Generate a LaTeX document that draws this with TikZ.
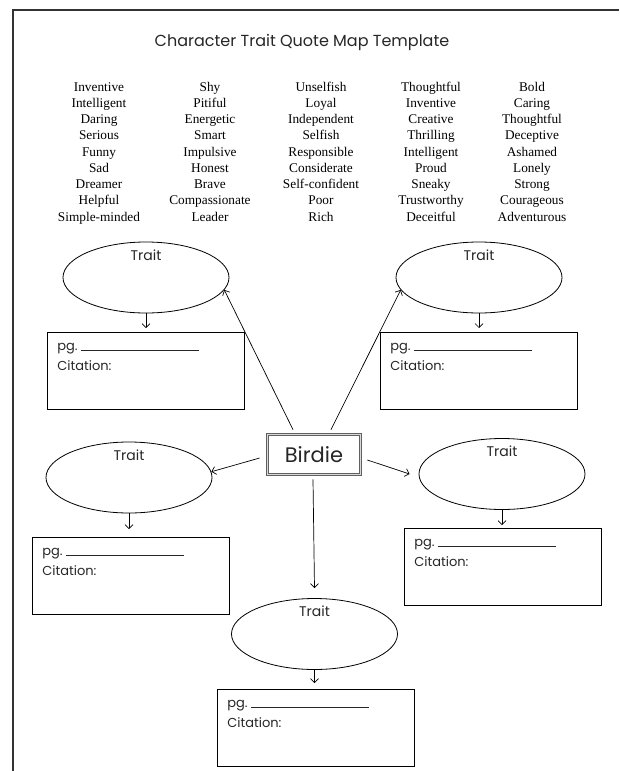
\documentclass[tikz,border=0pt]{standalone}
\usepackage{fontspec}
\setmainfont{Liberation Serif}
\newfontfamily\mapfont{Poppins}
\usetikzlibrary{arrows.meta,positioning,shapes.geometric}

\newcommand{\quotelines}{\parbox[t][69pt][t]{177pt}{\strut pg.~\rule{118pt}{0.6pt}\\Citation:}}

\begin{document}
\begin{tikzpicture}[x=1pt, y=-1pt, >={Straight Barb[length=4pt,width=8pt]},
  every node/.style={inner sep=0pt},
  word/.style={anchor=base, font=\fontsize{13.3}{16}\selectfont},
  traitoval/.style={draw, ellipse, line width=0.8pt, minimum width=166pt, minimum height=71pt,
    label={[font=\mapfont\fontsize{14}{16}\selectfont, text=black!85, anchor=north, yshift=-8pt]north:Trait}},
  quotebox/.style={draw, line width=0.8pt, anchor=north west, minimum width=197pt, minimum height=77pt,
    font=\mapfont\fontsize{13}{20}\selectfont, text=black!85},
  link/.style={->, line width=0.7pt}]
  \useasboundingbox (0,0) rectangle (619,771);
  % page frame (cut off right and bottom)
  \draw[line width=1.3pt, black!80] (619,10) -- (13,10) -- (13,771);
  \node[font=\mapfont\fontsize{16}{20}\selectfont, text=black!85, anchor=base] (title) at (302,46)
    {Character Trait Quote Map Template};
  % word bank
  \foreach \cx/\words [count=\j] in {
      99/{Inventive,Intelligent,Daring,Serious,Funny,Sad,Dreamer,Helpful,Simple-minded},
      210/{Shy,Pitiful,Energetic,Smart,Impulsive,Honest,Brave,Compassionate,Leader},
      321/{Unselfish,Loyal,Independent,Selfish,Responsible,Considerate,Self-confident,Poor,Rich},
      431/{Thoughtful,Inventive,Creative,Thrilling,Intelligent,Proud,Sneaky,Trustworthy,Deceitful},
      532/{Bold,Caring,Thoughtful,Deceptive,Ashamed,Lonely,Strong,Courageous,Adventurous}}
    \foreach \w [count=\i] in \words
      \node[word] (w\j-\i) at (\cx,{91+16.25*(\i-1)}) {\w};
  % centre
  \node[draw=gray!75!black, line width=0.7pt, double=gray!30, double distance=1.6pt,
    minimum width=93pt, minimum height=40pt, font=\mapfont\fontsize{21}{24}\selectfont,
    text=black!85] (birdie) at (314,454.5) {Birdie};
  % traits
  \node[traitoval] (elTL) at (146,277.5) {};
  \node[traitoval] (elTR) at (479,277.5) {};
  \node[traitoval] (elML) at (129,477.5) {};
  \node[traitoval] (elMR) at (502,474) {};
  \node[traitoval] (elB)  at (314.5,634) {};
  % quote boxes
  \node[quotebox] (boxTL) at (47,332)  {\quotelines};
  \node[quotebox] (boxTR) at (380,332) {\quotelines};
  \node[quotebox] (boxML) at (32,537)  {\quotelines};
  \node[quotebox] (boxMR) at (404,528) {\quotelines};
  \node[quotebox] (boxB)  at (217,689) {\quotelines};
  % links from the centre
  \draw[link] ([shift={(-21,-4.5)}]birdie.north) -- (elTL.-9);
  \draw[link] ([shift={(17,-4.5)}]birdie.north) -- (elTR.189);
  \draw[link] ([shift={(-7.5,3.5)}]birdie.west) -- (elML.4);
  \draw[link] ([shift={(6.5,5.5)}]birdie.east) -- ([xshift=-9pt]elMR.west);
  \draw[link] ([shift={(-1,4.5)}]birdie.south) -- ([yshift=10pt]elB.north);
  % trait -> quote
  \draw[link, shorten >=4pt] (elTL.south) -- (elTL.south |- boxTL.north);
  \draw[link, shorten >=4pt] (elTR.south) -- (elTR.south |- boxTR.north);
  \draw[link, shorten >=8pt] (elML.south) -- (elML.south |- boxML.north);
  \draw[link, shorten >=3pt] (elMR.south) -- (elMR.south |- boxMR.north);
  \draw[link, shorten >=6pt] (elB.south) -- (elB.south |- boxB.north);
\end{tikzpicture}
\end{document}
